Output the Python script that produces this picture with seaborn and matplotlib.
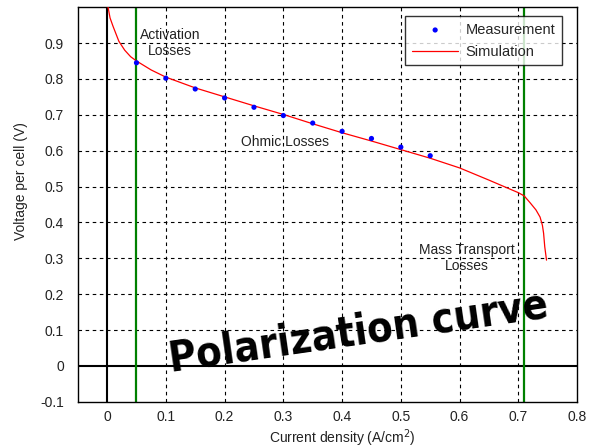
import matplotlib
matplotlib.use("Agg")
import matplotlib.pyplot as plt
import seaborn as sns
import pandas as pd

# Measured points
meas_x = [0.05, 0.10, 0.15, 0.20, 0.25, 0.30, 0.35, 0.40, 0.45, 0.50, 0.55]
meas_v = [0.845, 0.802, 0.772, 0.747, 0.721, 0.698, 0.677, 0.654, 0.634, 0.610, 0.586]

# Simulated polarization curve
sim_x = [0.001, 0.005, 0.010, 0.020, 0.030, 0.040, 0.050, 0.075, 0.10, 0.15,
         0.20, 0.25, 0.30, 0.35, 0.40, 0.45, 0.50, 0.55, 0.60, 0.65,
         0.68, 0.70, 0.71, 0.72, 0.73, 0.737, 0.741, 0.743, 0.745, 0.748]
sim_v = [1.005, 0.970, 0.947, 0.905, 0.880, 0.862, 0.850, 0.825, 0.805, 0.775,
         0.750, 0.725, 0.701, 0.675, 0.650, 0.627, 0.603, 0.579, 0.552, 0.518,
         0.497, 0.483, 0.474, 0.455, 0.435, 0.415, 0.392, 0.370, 0.332, 0.295]

region_bounds = [0.05, 0.71]

x_ticks = [0, 0.1, 0.2, 0.3, 0.4, 0.5, 0.6, 0.7, 0.8]
y_ticks = [-0.1, 0, 0.1, 0.2, 0.3, 0.4, 0.5, 0.6, 0.7, 0.8, 0.9]

annotations = ["Activation\nLosses", "Ohmic Losses", "Mass Transport\nLosses"]
annot_x = [0.107, 0.302, 0.613]
annot_y = [0.900, 0.625, 0.300]

sns.set_style("white")
plt.rcParams['font.family'] = ['Liberation Sans', 'DejaVu Sans']

meas_df = pd.DataFrame({"x": meas_x, "v": meas_v})
sim_df = pd.DataFrame({"x": sim_x, "v": sim_v})

fig = plt.figure(figsize=(5.98, 4.48), dpi=100)
ax = fig.add_axes([0.130, 0.103, 0.835, 0.881])

dash = (0, (3.2, 3.2))
for xv in x_ticks[1:-1]:
    ax.axvline(xv, color='black', lw=0.8, ls=dash, zorder=1)
for yv in y_ticks[2:]:
    ax.axhline(yv, color='black', lw=0.8, ls=dash, zorder=1)

ax.axvline(0, color='black', lw=1.5, zorder=2)
ax.axhline(0, color='black', lw=1.5, zorder=2)
for b in region_bounds:
    ax.axvline(b, color='#008000', lw=1.6, zorder=2)

sns.scatterplot(data=meas_df, x="x", y="v", ax=ax, color='#0000ff', marker='o',
                s=14, edgecolor='none', label='Measurement', zorder=4)
sns.lineplot(data=sim_df, x="x", y="v", ax=ax, color='#ff0000', lw=0.9,
             label='Simulation', zorder=3, sort=False)

ax.set_xlim(-0.05, 0.8)
ax.set_ylim(-0.1, 1.0)
ax.set_xticks(x_ticks)
ax.set_xticklabels([f"{t:g}" for t in x_ticks])
ax.set_yticks(y_ticks)
ax.set_yticklabels([f"{t:g}" for t in y_ticks])
ax.tick_params(axis='both', direction='in', length=3, labelsize=10, colors='black',
               labelcolor='#222222')
ax.tick_params(axis='y', pad=10)
ax.tick_params(axis='x', pad=6)
for sp in ax.spines.values():
    sp.set_color('black')
    sp.set_linewidth(1.0)

ax.set_xlabel("Current density (A/cm$^2$)", fontsize=10, color='#222222')
ax.set_ylabel("Voltage per cell (V)", fontsize=10, color='#222222')
ax.xaxis.set_label_coords(0.529, -0.065)
ax.yaxis.set_label_coords(-0.10, 0.56)

for t, xx, yy in zip(annotations, annot_x, annot_y):
    ax.text(xx, yy, t, ha='center', va='center', fontsize=10, color='#222222',
            linespacing=1.2, zorder=5)

ax.text(0.428, 0.095, "Polarization curve", ha='center', va='center', rotation=8.2,
        fontsize=30, fontweight='heavy', fontstretch='condensed', color='black',
        zorder=6, family=['DejaVu Sans'])

leg = ax.legend(loc='upper right', frameon=True, fontsize=10.5, fancybox=False,
                borderaxespad=0.0, bbox_to_anchor=(0.970, 0.977),
                handlelength=3.2, borderpad=0.45,
                labelspacing=0.55, handletextpad=0.5)
leg.get_frame().set_edgecolor('black')
leg.get_frame().set_linewidth(1.0)
leg.set_zorder(7)

fig.savefig("out.png", dpi=100)
